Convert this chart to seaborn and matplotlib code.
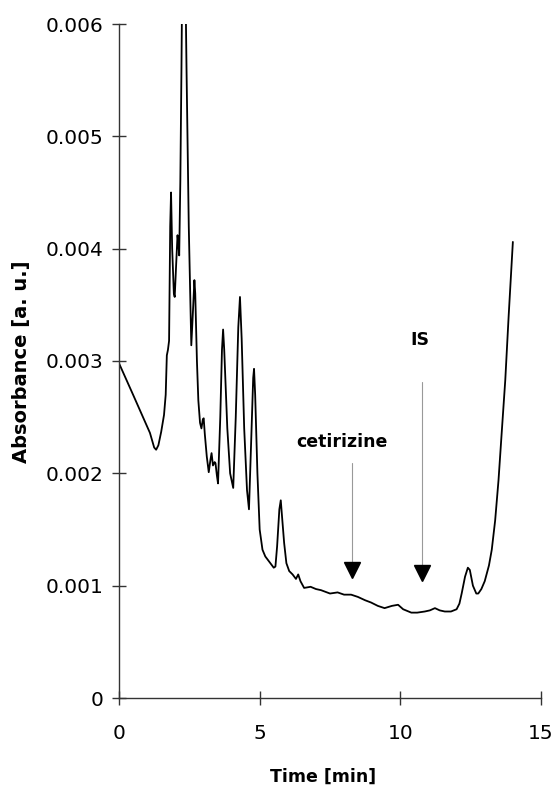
import matplotlib
matplotlib.use("Agg")
import matplotlib.pyplot as plt
import seaborn as sns
import pandas as pd
from matplotlib.ticker import FixedLocator, FixedFormatter

# ---- data ----
time_min = [0.00, 0.50, 1.10, 1.25, 1.32, 1.40, 1.50, 1.60, 1.66, 1.70, 1.74, 1.78,
            1.82, 1.85, 1.89, 1.95, 1.98, 2.03, 2.08, 2.11, 2.14, 2.18, 2.22, 2.26,
            2.34, 2.40, 2.48, 2.57, 2.63, 2.68, 2.71, 2.77, 2.82, 2.88, 2.93, 2.98,
            3.01, 3.05, 3.12, 3.19, 3.25, 3.29, 3.34, 3.40, 3.43, 3.48, 3.52, 3.60,
            3.66, 3.70, 3.74, 3.85, 3.95, 4.06, 4.15, 4.24, 4.30, 4.36, 4.45, 4.55,
            4.62, 4.70, 4.77, 4.80, 4.84, 4.92, 5.00, 5.10, 5.20, 5.35, 5.50, 5.56,
            5.62, 5.70, 5.75, 5.80, 5.87, 5.95, 6.05, 6.17, 6.29, 6.37, 6.45, 6.58,
            6.81, 7.00, 7.18, 7.50, 7.77, 8.00, 8.25, 8.49, 8.75, 8.96, 9.20, 9.44,
            9.70, 9.92, 10.10, 10.39, 10.60, 10.87, 11.05, 11.23, 11.40, 11.58, 11.80,
            12.00, 12.10, 12.18, 12.30, 12.40, 12.47, 12.58, 12.70, 12.77, 12.88,
            13.00, 13.15, 13.25, 13.37, 13.49, 13.60, 13.73, 13.85, 14.00]
absorbance = [0.00298, 0.00270, 0.00236, 0.00223, 0.00221, 0.00225, 0.00237, 0.00252,
              0.00270, 0.00305, 0.00310, 0.00318, 0.00420, 0.00450, 0.00400, 0.00360,
              0.00357, 0.00385, 0.00412, 0.00405, 0.00394, 0.00460, 0.00560, 0.00680,
              0.00680, 0.00560, 0.00420, 0.00314, 0.00345, 0.00372, 0.00360, 0.00300,
              0.00265, 0.00245, 0.00240, 0.00248, 0.00249, 0.00235, 0.00215, 0.00201,
              0.00212, 0.00218, 0.00207, 0.00210, 0.00209, 0.00198, 0.00191, 0.00250,
              0.00310, 0.00328, 0.00310, 0.00240, 0.00200, 0.00187, 0.00250, 0.00330,
              0.00357, 0.00320, 0.00240, 0.00185, 0.00168, 0.00230, 0.00285, 0.00293,
              0.00270, 0.00200, 0.00150, 0.00132, 0.00126, 0.00121, 0.00116, 0.00117,
              0.00135, 0.00168, 0.00176, 0.00160, 0.00138, 0.00120, 0.00113, 0.00110,
              0.00106, 0.00110, 0.00104, 0.00098, 0.00099, 0.00097, 0.00096, 0.00093,
              0.00094, 0.00092, 0.00092, 0.00090, 0.00087, 0.00085, 0.00082, 0.00080,
              0.00082, 0.00083, 0.00079, 0.00076, 0.00076, 0.00077, 0.00078, 0.00080,
              0.00078, 0.00077, 0.00077, 0.00079, 0.00084, 0.00093, 0.00108, 0.00116,
              0.00114, 0.00100, 0.00093, 0.00093, 0.00097, 0.00104, 0.00118, 0.00132,
              0.00158, 0.00194, 0.00235, 0.00283, 0.00340, 0.00406]

x_ticks = [0, 5, 10, 15]
x_tick_labels = ["0", "5", "10", "15"]
y_ticks = [0, 0.001, 0.002, 0.003, 0.004, 0.005, 0.006]
y_tick_labels = ["0", "0.001", "0.002", "0.003", "0.004", "0.005", "0.006"]

peak_labels = ["cetirizine", "IS"]
label_x = [7.93, 10.70]
label_y = [0.00228, 0.00319]
arrow_x = [8.27, 10.76]
arrow_top = [0.00209, 0.00281]
arrow_head = [0.00114, 0.00111]

# ---- figure ----
sns.set_style("white")
plt.rcParams["font.family"] = ["DejaVu Sans"]

W, H = 554, 786
fig = plt.figure(figsize=(W / 100, H / 100), dpi=100)
ax = fig.add_axes([119 / W, 88 / H, 422 / W, 674 / H])

df = pd.DataFrame({"time": time_min, "abs": absorbance})
sns.lineplot(data=df, x="time", y="abs", sort=False, estimator=None,
             color="black", linewidth=1.3, ax=ax)

ax.set_xlim(0, 15)
ax.set_ylim(0, 0.006)

for s in ["top", "right"]:
    ax.spines[s].set_visible(False)
for s in ["left", "bottom"]:
    ax.spines[s].set_color("#333333")
    ax.spines[s].set_linewidth(1.0)

ax.xaxis.set_major_locator(FixedLocator(x_ticks))
ax.xaxis.set_major_formatter(FixedFormatter(x_tick_labels))
ax.yaxis.set_major_locator(FixedLocator(y_ticks))
ax.yaxis.set_major_formatter(FixedFormatter(y_tick_labels))
ax.tick_params(axis="both", direction="inout", length=10, width=1.0,
               color="#333333", labelsize=14.5, labelcolor="black",
               bottom=True, left=True)
ax.tick_params(axis="x", pad=13.5)
ax.tick_params(axis="y", pad=6.5)
ax.set_xlabel("")
ax.set_ylabel("")

# arrows and labels
for lx, ly, txt in zip(label_x, label_y, peak_labels):
    ax.text(lx, ly, txt, ha="center", va="center", fontsize=12.5,
            fontweight="bold", color="black")
for axx, top, head in zip(arrow_x, arrow_top, arrow_head):
    ax.plot([axx, axx], [top, head], color="#999999", linewidth=0.8)
    ax.plot([axx], [head], marker="v", markersize=11, color="black",
            linestyle="none")

fig.text(323 / W, 1 - 777 / H, "Time [min]", ha="center", va="center",
         fontsize=12.5, fontweight="bold", color="black")
fig.text(22 / W, 1 - 362 / H, "Absorbance [a. u.]", ha="center", va="center",
         rotation=90, fontsize=14, fontweight="bold", color="black")

fig.savefig("out.png", dpi=100)
